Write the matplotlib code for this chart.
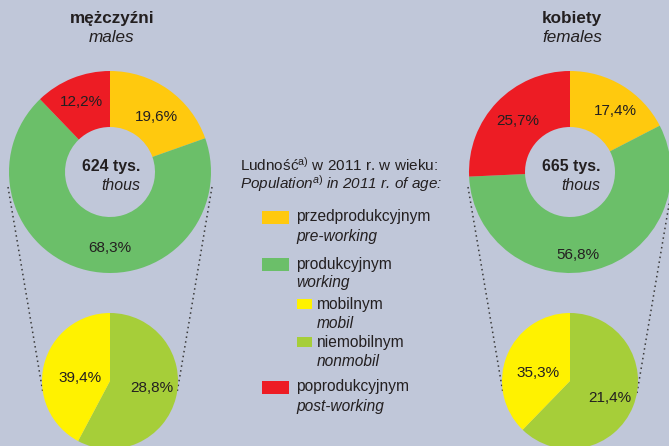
import matplotlib
matplotlib.use("Agg")
import matplotlib.pyplot as plt
from matplotlib.patches import Rectangle

plt.rcParams['font.family'] = ['Liberation Sans', 'DejaVu Sans']
plt.rcParams['mathtext.fontset'] = 'custom'
plt.rcParams['mathtext.rm'] = 'Liberation Sans'
plt.rcParams['mathtext.it'] = 'Liberation Sans:italic'

# ---- data ----
groups_pl = ['mężczyźni', 'kobiety']
groups_en = ['males', 'females']
totals = [624, 665]
pre_working = [19.6, 17.4]
working = [68.3, 56.8]
post_working = [12.2, 25.7]
mobil = [39.4, 35.3]
nonmobil = [28.8, 21.4]

legend_pl = ['przedprodukcyjnym', 'produkcyjnym', 'mobilnym', 'niemobilnym', 'poprodukcyjnym']
legend_en = ['pre-working', 'working', 'mobil', 'nonmobil', 'post-working']

# ---- style ----
BG = '#c0c7d9'
C_PRE = '#ffc90e'
C_WORK = '#6bbf69'
C_POST = '#ed1c24'
C_MOB = '#fff200'
C_NMOB = '#a6ce39'
TXT = '#231f20'

W, H = 669, 446
fig = plt.figure(figsize=(W / 100, H / 100), dpi=100, facecolor=BG)
ax = fig.add_axes([0, 0, 1, 1])
ax.set_facecolor(BG)


def P(x, y):
    return (x, H - y)


def fmt(v):
    return f"{v:.1f}".replace('.', ',') + '%'


centers_x = [110, 570]
donut_cy = 172
R_OUT = 101
RING_W = 56
pie_cy = 381
R_SMALL = 68

donut_lab_off = [
    [(46, -55), (0, 76), (-29, -70)],
    [(45, -61), (8, 83), (-52, -51)],
]
small_lab_off = [
    [(-30, -3), (42, 7)],
    [(-32, -8), (40, 17)],
]

FS = 11
for i in range(2):
    cx = centers_x[i]
    # donut
    ax.pie([pre_working[i], working[i], post_working[i]],
           colors=[C_PRE, C_WORK, C_POST], startangle=90, counterclock=False,
           radius=R_OUT, center=P(cx, donut_cy),
           wedgeprops=dict(width=RING_W, edgecolor='none', linewidth=0))
    vals = [pre_working[i], working[i], post_working[i]]
    for v, (dx, dy) in zip(vals, donut_lab_off[i]):
        ax.text(*P(cx + dx, donut_cy + dy), fmt(v), ha='center', va='center',
                fontsize=FS, color=TXT)
    # small pie (wedge sizes as drawn in the original)
    ax.pie([mobil[i], nonmobil[i]], colors=[C_NMOB, C_MOB], startangle=90,
           counterclock=False, radius=R_SMALL, center=P(cx, pie_cy),
           wedgeprops=dict(edgecolor='none', linewidth=0))
    for v, (dx, dy) in zip([mobil[i], nonmobil[i]], small_lab_off[i]):
        ax.text(*P(cx + dx, pie_cy + dy), fmt(v), ha='center', va='center',
                fontsize=FS, color=TXT)
    # centre text
    ax.text(*P(cx + 30, 167), f"{totals[i]} tys.", ha='right', va='center',
            fontsize=11.4, fontweight='bold', color=TXT)
    ax.text(*P(cx + 30, 185), "thous", ha='right', va='center',
            fontsize=11.4, fontstyle='italic', color=TXT)
    # titles
    ax.text(*P(cx + 2, 18), groups_pl[i], ha='center', va='center',
            fontsize=12.3, fontweight='bold', color=TXT)
    ax.text(*P(cx + 2, 37), groups_en[i], ha='center', va='center',
            fontsize=12.3, fontstyle='italic', color=TXT)
    # dotted connectors
    for s in (-1, 1):
        x0, y0 = P(cx + s * (R_OUT + 1), donut_cy + 15)
        x1, y1 = P(cx + s * (R_SMALL - 1), pie_cy + 12)
        ax.plot([x0, x1], [y0, y1], color='#3a3a3a', lw=1.1,
                linestyle=(0, (1, 2.2)), zorder=0.5)

# ---- legend ----
ax.text(*P(240, 165), r"Ludność$^{\mathrm{a)}}$ w 2011 r. w wieku:", ha='left',
        va='center', fontsize=11, color=TXT)
ax.text(*P(240, 184), r"Population$^{a)}$ in 2011 r. of age:", ha='left',
        va='center', fontsize=11, fontstyle='italic', color=TXT)

leg_colors = [C_PRE, C_WORK, C_MOB, C_NMOB, C_POST]
leg_y = [217, 264, 304, 342, 387]
leg_big = [True, True, False, False, True]
for name_pl, name_en, col, y, big in zip(legend_pl, legend_en, leg_colors, leg_y, leg_big):
    if big:
        px, pw, ph, tx = 262, 27, 13, 296
    else:
        px, pw, ph, tx = 297, 15, 10, 317
    ax.add_patch(Rectangle(P(px, y + ph / 2), pw, ph, facecolor=col,
                           edgecolor='none'))
    ax.text(*P(tx, y), name_pl, ha='left', va='center', fontsize=11.2, color=TXT)
    ax.text(*P(tx, y + 19), name_en, ha='left', va='center', fontsize=11.2,
            fontstyle='italic', color=TXT)

ax.set_xlim(0, W)
ax.set_ylim(0, H)
ax.set_aspect('auto')
ax.axis('off')

fig.savefig('out.png', dpi=100, facecolor=BG)
